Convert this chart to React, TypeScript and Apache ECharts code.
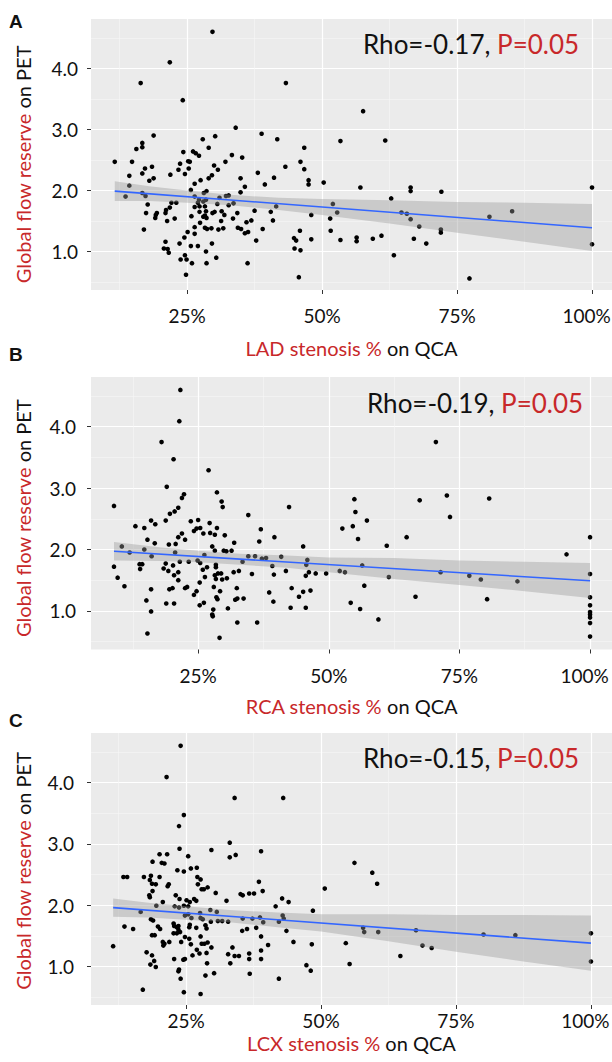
import React, { useEffect, useRef } from "react";
import * as echarts from "echarts";

// Stenosis % (QCA) vs global flow reserve (PET), one list of [x, y] per vessel
const ladPoints: [number, number][] = [
  [29.7, 4.6], [21.8, 4.1], [16.4, 3.76], [24.2, 3.48], [43.3, 3.76], [34.0, 3.03], [18.8, 2.9], [38.8, 2.93],
  [41.7, 2.84], [46.7, 2.7], [27.9, 2.84], [30.2, 2.89], [29.0, 2.7], [16.7, 2.78], [16.7, 2.71], [15.6, 2.68],
  [24.3, 2.63], [26.1, 2.64], [26.6, 2.61], [27.2, 2.57], [33.3, 2.58], [35.2, 2.54], [11.6, 2.47], [14.8, 2.47],
  [23.7, 2.44], [25.2, 2.48], [25.5, 2.47], [30.0, 2.41], [32.1, 2.47], [17.2, 2.36], [18.5, 2.39], [23.4, 2.34],
  [25.3, 2.36], [30.7, 2.34], [43.2, 2.39], [46.0, 2.47], [46.7, 2.35], [16.7, 2.28], [14.3, 2.24], [21.9, 2.26],
  [24.6, 2.27], [29.6, 2.25], [29.0, 2.2], [27.5, 2.17], [18.8, 2.2], [18.0, 2.16], [34.9, 2.2], [38.1, 2.29],
  [41.1, 2.21], [47.5, 2.17], [47.5, 2.1], [50.3, 2.13], [14.3, 2.08], [26.4, 2.11], [35.7, 2.06], [39.4, 2.1],
  [25.7, 2.01], [34.9, 1.97], [28.1, 1.96], [28.6, 1.99], [16.7, 1.96], [17.3, 1.91], [13.6, 1.9], [26.4, 1.9],
  [27.2, 1.85], [28.5, 1.85], [31.0, 1.88], [32.2, 1.91], [32.7, 1.92], [17.7, 1.77], [22.1, 1.8], [23.0, 1.8],
  [27.0, 1.8], [28.0, 1.82], [30.6, 1.78], [32.7, 1.76], [33.6, 1.79], [41.5, 1.74], [21.8, 1.72], [21.1, 1.68],
  [26.4, 1.73], [27.3, 1.74], [28.3, 1.74], [19.4, 1.63], [19.2, 1.6], [17.4, 1.63], [21.0, 1.63], [27.3, 1.65],
  [28.5, 1.66], [29.7, 1.63], [30.1, 1.65], [31.4, 1.66], [34.3, 1.63], [37.5, 1.67], [40.5, 1.65], [19.1, 1.55],
  [22.7, 1.54], [25.8, 1.58], [28.0, 1.57], [28.3, 1.59], [28.6, 1.55], [31.9, 1.6], [33.5, 1.54], [36.9, 1.51],
  [40.9, 1.51], [48.0, 1.6], [21.3, 1.5], [31.3, 1.5], [36.0, 1.48], [17.0, 1.36], [26.4, 1.4], [27.4, 1.47],
  [28.3, 1.39], [28.7, 1.37], [29.5, 1.38], [30.8, 1.36], [31.7, 1.38], [34.4, 1.39], [35.0, 1.37], [35.7, 1.3],
  [36.3, 1.32], [39.0, 1.37], [45.9, 1.34], [25.1, 1.32], [26.4, 1.29], [24.5, 1.23], [23.6, 1.13], [29.6, 1.13],
  [21.0, 1.16], [25.7, 1.09], [27.0, 1.09], [20.7, 1.05], [21.4, 1.04], [21.6, 0.98], [28.5, 1.0], [37.8, 1.18],
  [44.8, 1.22], [45.2, 1.18], [44.9, 1.05], [46.0, 1.02], [48.0, 1.2], [24.6, 0.94], [23.8, 0.87], [24.9, 0.87],
  [25.9, 0.81], [28.6, 0.81], [30.4, 0.9], [36.2, 0.81], [24.8, 0.62], [45.7, 0.58],
  [57.6, 3.3], [53.4, 2.81], [61.7, 2.82], [57.1, 2.05], [66.4, 2.05], [66.4, 1.99], [72.1, 1.98], [100, 2.05],
  [62.8, 1.87], [52.0, 1.78], [52.8, 1.64], [51.5, 1.54], [64.7, 1.64], [65.7, 1.62], [66.4, 1.53], [81.0, 1.57],
  [85.2, 1.66], [51.6, 1.34], [68.0, 1.41], [72.0, 1.36], [72.0, 1.31], [53.4, 1.19], [56.4, 1.23], [56.4, 1.17],
  [59.4, 1.21], [61.0, 1.26], [67.0, 1.21], [69.3, 1.13], [63.3, 0.94], [77.3, 0.56], [100, 1.12],
];

const rcaPoints: [number, number][] = [
  [21.6, 4.6], [21.4, 4.09], [18.0, 3.75], [20.3, 3.47], [27.0, 3.29], [19.0, 3.02], [28.6, 2.93], [22.3, 2.9],
  [21.9, 2.84], [29.5, 2.78], [29.7, 2.69], [8.9, 2.71], [21.2, 2.68], [20.5, 2.62], [19.6, 2.58], [42.4, 2.69],
  [34.6, 2.56], [18.8, 2.47], [16.0, 2.47], [16.8, 2.41], [13.0, 2.38], [14.7, 2.35], [23.6, 2.46], [25.0, 2.48],
  [27.2, 2.43], [28.6, 2.35], [24.2, 2.3], [24.7, 2.34], [25.4, 2.35], [37.0, 2.33], [21.9, 2.26], [21.2, 2.2],
  [26.0, 2.26], [27.3, 2.27], [28.2, 2.24], [30.1, 2.23], [22.5, 2.16], [15.3, 2.16], [16.7, 2.1], [19.4, 2.08],
  [20.7, 2.09], [31.9, 2.11], [36.7, 2.13], [39.6, 2.2], [27.7, 2.05], [28.2, 1.98], [29.9, 1.98], [30.4, 1.97],
  [31.4, 1.98], [10.4, 2.05], [11.9, 1.95], [14.7, 2.0], [20.6, 1.95], [45.1, 2.05], [16.1, 1.89], [26.2, 1.91],
  [34.6, 1.89], [35.9, 1.89], [37.2, 1.85], [38.0, 1.86], [40.9, 1.88], [45.9, 1.83], [8.9, 1.72], [13.8, 1.76],
  [14.3, 1.76], [13.9, 1.68], [18.8, 1.77], [18.4, 1.69], [19.3, 1.65], [20.2, 1.74], [20.4, 1.58], [21.2, 1.63],
  [21.5, 1.8], [21.2, 1.5], [23.2, 1.8], [24.9, 1.82], [25.4, 1.78], [26.7, 1.71], [25.9, 1.67], [26.3, 1.55],
  [25.3, 1.46], [28.4, 1.75], [28.4, 1.71], [28.2, 1.58], [28.8, 1.61], [29.4, 1.61], [28.4, 1.52], [29.6, 1.51],
  [30.5, 1.53], [33.5, 1.8], [31.8, 1.63], [32.8, 1.65], [35.3, 1.6], [39.2, 1.73], [39.5, 1.59], [41.8, 1.65],
  [45.7, 1.75], [45.6, 1.57], [46.2, 1.63], [47.5, 1.61], [49.5, 1.61], [9.6, 1.54], [10.9, 1.4], [19.5, 1.35],
  [20.1, 1.37], [22.5, 1.37], [22.9, 1.39], [16.0, 1.35], [15.1, 1.17], [16.0, 0.99], [15.3, 0.63], [18.9, 1.12],
  [20.4, 1.12], [24.2, 1.26], [24.7, 1.32], [25.3, 1.09], [26.1, 1.13], [28.0, 1.39], [28.5, 1.22], [28.7, 1.19],
  [27.9, 1.02], [27.7, 0.94], [27.8, 0.91], [29.2, 1.32], [30.7, 1.04], [32.4, 1.37], [32.1, 1.18], [32.5, 1.2],
  [33.7, 1.2], [32.5, 0.81], [29.1, 0.56], [36.3, 0.81], [38.6, 1.3], [39.4, 1.15], [42.9, 1.37], [42.7, 1.05],
  [44.3, 1.23], [45.1, 1.31], [45.6, 1.05], [46.5, 1.33],
  [70.5, 3.75], [54.9, 2.82], [67.4, 2.8], [72.6, 2.88], [80.7, 2.83], [55.1, 2.61], [73.2, 2.53], [52.6, 2.34],
  [54.6, 2.38], [57.3, 2.47], [55.6, 2.17], [64.9, 2.2], [61.1, 2.06], [100, 2.2], [95.5, 1.92], [56.4, 1.74],
  [52.1, 1.65], [53.1, 1.63], [61.5, 1.55], [71.4, 1.63], [76.9, 1.57], [79.1, 1.51], [86.1, 1.48], [100, 1.6],
  [56.8, 1.41], [66.6, 1.23], [80.3, 1.19], [54.2, 1.13], [56.0, 1.03], [59.5, 0.86], [100, 1.22], [100, 1.09],
  [100, 0.98], [100, 0.94], [100, 0.89], [100, 0.8], [100, 0.58],
];

const lcxPoints: [number, number][] = [
  [24.0, 4.6], [21.4, 4.09], [34.0, 3.75], [43.0, 3.75], [24.6, 3.47], [23.7, 3.29], [33.1, 3.02], [23.8, 2.92],
  [29.7, 2.9], [38.9, 2.88], [34.2, 2.82], [33.1, 2.78], [20.1, 2.83], [21.5, 2.83], [18.8, 2.71], [20.5, 2.69],
  [21.0, 2.68], [25.4, 2.8], [23.4, 2.57], [24.6, 2.55], [25.9, 2.6], [27.0, 2.61], [13.4, 2.46], [14.1, 2.46],
  [17.2, 2.46], [18.5, 2.48], [18.3, 2.41], [18.7, 2.35], [19.4, 2.34], [20.1, 2.46], [21.8, 2.34], [21.6, 2.31],
  [27.1, 2.46], [27.7, 2.42], [27.2, 2.34], [18.8, 2.23], [18.2, 2.16], [18.3, 2.13], [19.5, 1.99], [20.7, 2.05],
  [23.1, 2.16], [23.8, 2.1], [25.1, 2.08], [25.7, 2.05], [26.5, 2.1], [26.9, 2.07], [27.9, 2.26], [28.3, 2.26],
  [29.0, 2.29], [30.5, 2.2], [35.1, 2.18], [35.5, 2.16], [36.7, 2.19], [37.6, 2.19], [38.5, 2.38], [39.2, 2.23],
  [32.5, 2.07], [42.8, 2.11], [44.0, 2.05], [41.6, 1.98], [22.9, 1.98], [23.7, 1.96], [24.6, 1.99], [25.4, 1.98],
  [16.6, 1.89], [18.5, 1.77], [18.9, 1.75], [24.8, 1.83], [25.4, 1.85], [26.0, 1.79], [27.6, 1.87], [27.7, 1.79],
  [28.1, 1.77], [29.5, 1.92], [29.6, 1.73], [30.7, 1.89], [30.9, 1.74], [31.7, 1.74], [32.8, 1.73], [35.5, 1.78],
  [37.3, 1.78], [38.7, 1.8], [39.3, 1.72], [42.2, 1.73], [42.9, 1.83], [43.1, 1.78], [48.5, 1.91], [13.6, 1.65],
  [15.2, 1.61], [19.8, 1.65], [20.2, 1.61], [22.7, 1.7], [22.8, 1.66], [23.3, 1.64], [23.6, 1.6], [22.7, 1.54],
  [23.3, 1.54], [23.9, 1.56], [23.6, 1.66], [25.7, 1.68], [25.6, 1.64], [26.9, 1.63], [28.6, 1.67], [28.8, 1.62],
  [27.7, 1.49], [24.8, 1.48], [25.6, 1.45], [24.1, 1.4], [18.7, 1.51], [19.2, 1.51], [20.8, 1.34], [20.7, 1.4],
  [21.0, 1.37], [21.9, 1.4], [25.9, 1.36], [27.9, 1.37], [28.4, 1.37], [29.0, 1.39], [29.7, 1.31], [28.8, 1.22],
  [27.0, 1.27], [26.2, 1.18], [27.5, 1.21], [24.8, 1.12], [24.5, 1.11], [22.8, 1.12], [28.9, 1.05], [17.7, 1.23],
  [18.7, 1.18], [19.1, 1.09], [18.4, 1.03], [19.4, 0.99], [23.7, 0.95], [23.6, 0.92], [24.0, 0.8], [28.6, 0.85],
  [30.2, 0.89], [24.6, 0.58], [27.7, 0.55], [17.0, 0.62], [11.5, 1.33], [33.6, 1.31], [32.8, 1.2], [33.2, 1.05],
  [34.0, 1.17], [34.8, 1.17], [36.7, 1.21], [36.7, 1.12], [36.8, 0.88], [36.3, 1.61], [35.4, 1.58], [38.0, 1.63],
  [38.9, 1.49], [38.9, 1.26], [38.9, 1.12], [40.2, 1.35], [43.6, 1.58], [44.9, 1.4], [42.2, 0.8], [47.3, 1.02],
  [48.1, 0.93], [48.3, 1.36], [50.7, 2.27],
  [56.2, 2.69], [59.5, 2.53], [60.4, 2.35], [57.8, 1.63], [58.0, 1.56], [60.6, 1.56], [67.6, 1.59], [80.1, 1.52],
  [86.0, 1.51], [100, 1.54], [54.6, 1.38], [68.8, 1.34], [70.5, 1.3], [64.7, 1.17], [55.3, 1.04], [100, 1.08],
];

// Linear fits (end points) and 95% confidence bands
const ladFitX = [11.6, 100];
const ladFitY = [1.99, 1.39];
const ladBandX = [11.6, 18, 25, 33, 42, 50, 62.5, 75, 87.5, 100];
const ladBandUpper = [2.15, 2.07, 2.0, 1.93, 1.88, 1.86, 1.84, 1.81, 1.8, 1.78];
const ladBandLower = [1.83, 1.83, 1.8, 1.76, 1.68, 1.6, 1.46, 1.31, 1.16, 1.01];

const rcaFitX = [8.9, 100];
const rcaFitY = [1.97, 1.49];
const rcaBandX = [8.9, 18, 25, 33, 42, 50, 62.5, 75, 87.5, 100];
const rcaBandUpper = [2.12, 2.03, 1.98, 1.93, 1.9, 1.87, 1.86, 1.82, 1.8, 1.78];
const rcaBandLower = [1.82, 1.81, 1.79, 1.75, 1.7, 1.63, 1.52, 1.42, 1.32, 1.21];

const lcxFitX = [11.5, 100];
const lcxFitY = [1.96, 1.38];
const lcxBandX = [11.5, 18, 25, 33, 42, 50, 62.5, 75, 87.5, 100];
const lcxBandUpper = [2.11, 2.04, 1.98, 1.92, 1.88, 1.85, 1.85, 1.84, 1.84, 1.83];
const lcxBandLower = [1.81, 1.8, 1.76, 1.72, 1.64, 1.57, 1.41, 1.24, 1.08, 0.93];

const rhoValues = ["-0.17", "-0.19", "-0.15"];
const pValues = ["0.05", "0.05", "0.05"];
const panelLetters = ["A", "B", "C"];
const vessels = ["LAD", "RCA", "LCX"];

const xTicks = [25, 50, 75, 100];
const xMinorTicks = [12.5, 37.5, 62.5, 87.5];
const yTicks = [1, 2, 3, 4];
const yMinorTicks = [0.5, 1.5, 2.5, 3.5, 4.5];

const RED = "#C8282A";
const INK = "#111111";
const FONT = "Lato, 'Open Sans', sans-serif";

// Panel geometry (pixels) and axis extents
const layouts = [
  { top: 19, height: 271, xMin: 7.2, xMax: 103.7, labelGap: 16, titleGap: 48, yLabelGap: 13, yTitlePad: 10, note: [363, 44], letter: 21.5 },
  { top: 377, height: 272.5, xMin: 4.5, xMax: 104.2, labelGap: 16, titleGap: 46, yLabelGap: 15, yTitlePad: 5, note: [367, 403], letter: 354.5 },
  { top: 733, height: 272, xMin: 7.4, xMax: 103.9, labelGap: 6, titleGap: 28, yLabelGap: 17, yTitlePad: 2, note: [363, 757.5], letter: 720 },
];
const Y_MIN = 0.37;
const Y_MAX = 4.81;

const data = [
  { points: ladPoints, fitX: ladFitX, fitY: ladFitY, bx: ladBandX, bu: ladBandUpper, bl: ladBandLower },
  { points: rcaPoints, fitX: rcaFitX, fitY: rcaFitY, bx: rcaBandX, bu: rcaBandUpper, bl: rcaBandLower },
  { points: lcxPoints, fitX: lcxFitX, fitY: lcxFitY, bx: lcxBandX, bu: lcxBandUpper, bl: lcxBandLower },
];

const TITLE_SIZE = 20;
const titleRich = {
  r: { color: RED, fontSize: TITLE_SIZE, fontFamily: FONT },
  k: { color: INK, fontSize: TITLE_SIZE, fontFamily: FONT },
};

function buildOption() {
  const grid: any[] = [];
  const xAxis: any[] = [];
  const yAxis: any[] = [];
  const series: any[] = [];
  const graphic: any[] = [];

  layouts.forEach((L, i) => {
    grid.push({
      left: 91,
      right: 0,
      top: L.top,
      height: L.height,
      show: true,
      backgroundColor: "#EBEBEB",
      borderWidth: 0,
      containLabel: false,
      outerBoundsMode: "none",
    });

    // minor grid axes (drawn first)
    xAxis.push({
      type: "value",
      gridIndex: i,
      position: "bottom",
      min: L.xMin,
      max: L.xMax,
      axisLine: { show: false },
      axisTick: { show: false, customValues: xMinorTicks },
      axisLabel: { show: false, customValues: xMinorTicks },
      splitLine: { show: true, lineStyle: { color: "#F7F7F7", width: 0.6 } },
    });
    yAxis.push({
      type: "value",
      gridIndex: i,
      position: "left",
      min: Y_MIN,
      max: Y_MAX,
      axisLine: { show: false },
      axisTick: { show: false, customValues: yMinorTicks },
      axisLabel: { show: false, customValues: yMinorTicks },
      splitLine: { show: true, lineStyle: { color: "#F7F7F7", width: 0.6 } },
    });

    // major axes with labels and titles
    xAxis.push({
      type: "value",
      gridIndex: i,
      position: "bottom",
      min: L.xMin,
      max: L.xMax,
      axisLine: { show: false },
      axisTick: { show: true, length: 4, lineStyle: { color: "#333", width: 1 }, customValues: xTicks },
      axisLabel: {
        customValues: xTicks,
        // the last label is nudged left so it stays inside the page
        formatter: (v: number) => (v === 100 ? `{edge|${v}%}` : `${v}%`),
        fontSize: 19,
        fontFamily: FONT,
        color: INK,
        margin: L.labelGap,
        rich: {
          edge: { fontSize: 19, fontFamily: FONT, color: INK, padding: [0, 11, 0, 0] },
        },
      },
      splitLine: { show: true, lineStyle: { color: "#FFFFFF", width: 1.2 } },
      name: `{r|${vessels[i]} stenosis %}{k| on QCA}`,
      nameLocation: "middle",
      nameGap: L.titleGap,
      nameTextStyle: { verticalAlign: "top", rich: titleRich },
    });
    yAxis.push({
      type: "value",
      gridIndex: i,
      position: "left",
      min: Y_MIN,
      max: Y_MAX,
      axisLine: { show: false },
      axisTick: { show: true, length: 4, lineStyle: { color: "#333", width: 1 }, customValues: yTicks },
      axisLabel: {
        customValues: yTicks,
        formatter: (v: number) => v.toFixed(1),
        fontSize: 19,
        fontFamily: FONT,
        color: INK,
        margin: L.yLabelGap,
      },
      splitLine: { show: true, lineStyle: { color: "#FFFFFF", width: 1.2 } },
      name: "{r|Global flow reserve}{k| on PET}",
      nameLocation: "middle",
      nameRotate: 90,
      nameGap: 58,
      nameTextStyle: { rich: titleRich, padding: [0, L.yTitlePad * 2, 0, 0] },
    });

    const d = data[i];
    const xi = 2 * i + 1;
    series.push({
      type: "scatter",
      xAxisIndex: xi,
      yAxisIndex: xi,
      data: d.points,
      symbolSize: 4.6,
      itemStyle: { color: "#000000", opacity: 1 },
      silent: true,
      z: 2,
    });
    series.push({
      type: "custom",
      xAxisIndex: xi,
      yAxisIndex: xi,
      data: d.bx.map((x, k) => [x, d.bl[k], d.bu[k]]),
      clip: true,
      silent: true,
      z: 3,
      renderItem: (params: any, api: any) => {
        if (params.dataIndex !== 0) return null;
        const upper = d.bx.map((x, k) => api.coord([x, d.bu[k]]));
        const lower = d.bx.map((x, k) => api.coord([x, d.bl[k]])).reverse();
        return {
          type: "polygon",
          shape: { points: upper.concat(lower) },
          style: { fill: "rgba(153,153,153,0.4)" },
        };
      },
    });
    series.push({
      type: "line",
      xAxisIndex: xi,
      yAxisIndex: xi,
      data: d.fitX.map((x, k) => [x, d.fitY[k]]),
      showSymbol: false,
      lineStyle: { color: "#3366FF", width: 1.6 },
      silent: true,
      z: 4,
    });

    graphic.push({
      type: "text",
      x: L.note[0],
      y: L.note[1],
      style: {
        text: `{k|Rho=${rhoValues[i]}, }{r|P=${pValues[i]}}`,
        verticalAlign: "middle",
        rich: {
          k: { fill: INK, fontSize: 26, fontFamily: FONT },
          r: { fill: RED, fontSize: 26, fontFamily: FONT },
        },
      },
      z: 10,
    });
    graphic.push({
      type: "text",
      x: 9,
      y: L.letter,
      style: {
        text: panelLetters[i],
        fill: "#111",
        font: "bold 19px 'Liberation Sans', Arial, sans-serif",
        verticalAlign: "middle",
      },
      z: 10,
    });
  });

  return { animation: false, backgroundColor: "#FFFFFF", grid, xAxis, yAxis, series, graphic };
}

export default function App() {
  const ref = useRef<HTMLDivElement>(null);
  useEffect(() => {
    if (!ref.current) return;
    const chart = echarts.init(ref.current, undefined, { renderer: "svg" });
    chart.setOption(buildOption() as any);
    return () => chart.dispose();
  }, []);
  return (
    <div
      ref={ref}
      style={{ position: "absolute", left: 0, top: 0, width: 612, height: 1062 }}
    />
  );
}
